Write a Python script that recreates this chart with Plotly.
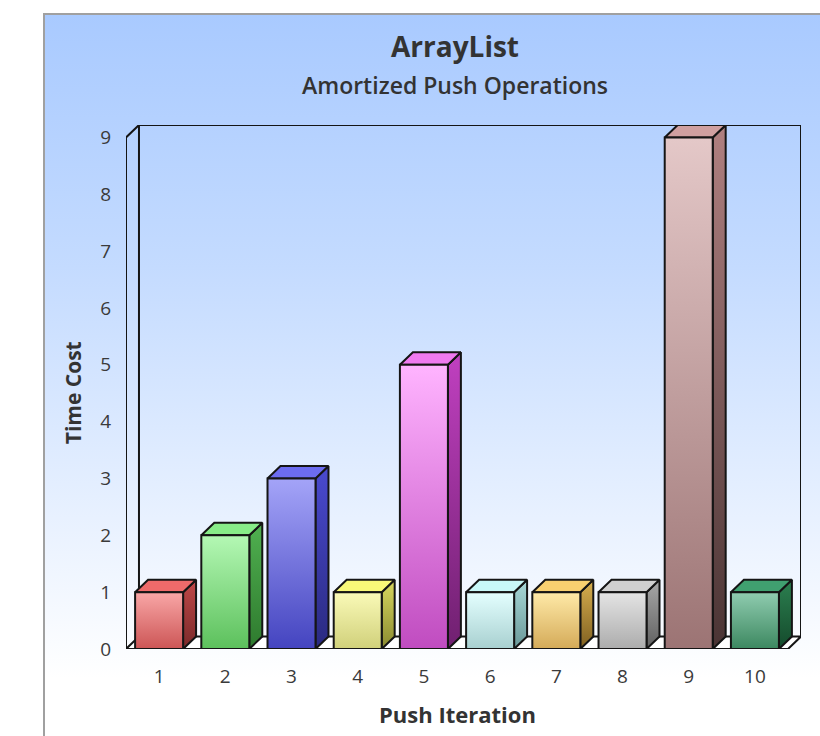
import base64
import plotly.graph_objects as go

# ---- data -------------------------------------------------------------
iterations = ["1", "2", "3", "4", "5", "6", "7", "8", "9", "10"]
time_cost = [1, 2, 3, 1, 5, 1, 1, 1, 9, 1]
y_ticks = [0, 1, 2, 3, 4, 5, 6, 7, 8, 9]

# per-bar palette: (front top, front bottom, side top, side bottom, top face)
front_top = ["#f9a7a7", "#b4f8b4", "#a4a4f8", "#fafab8", "#ffb4ff",
             "#e4ffff", "#ffeaa8", "#e4e4e4", "#e4c8c8", "#90ccb0"]
front_bottom = ["#cc5555", "#5cc05c", "#4444c0", "#d0d07a", "#c04cc0",
                "#a8d0d0", "#d4aa58", "#acacac", "#9c7474", "#3c8860"]
side_top = ["#c04848", "#50b050", "#4a4ad0", "#d8d860", "#c040c0",
            "#a8d8d8", "#d8b050", "#a8a8a8", "#b08080", "#2c8050"]
side_bottom = ["#7a2a2a", "#2e7a2e", "#2a2a80", "#8a8a30", "#702070",
               "#6a9898", "#806020", "#606060", "#4a3434", "#144a2c"]
top_face = ["#ee6a6a", "#88ec88", "#6c6cf0", "#f8f878", "#f07af0",
            "#c8f8f8", "#f8d070", "#d0d0d0", "#d0a0a0", "#40a070"]

# ---- geometry ---------------------------------------------------------
W, H = 820, 736
L, R, T, B = 126, 19, 125, 87          # plot margins (px)
half_w = 0.3625                         # half bar width (category units)
dx, dy = 0.196, 0.22                    # depth offset (data units)
x_lo, x_hi = -0.5, len(iterations) - 0.5
y_top = max(y_ticks)

pw, ph = W - L - R, H - T - B


def px_x(px):
    return (px - L) / pw


def px_y(py):
    return (H - B - py) / ph


outline = "#151515"
lw = 2
fig = go.Figure()

# floor
fig.add_trace(go.Scatter(
    x=[x_lo, x_hi, x_hi + dx, x_lo + dx, x_lo],
    y=[0, 0, dy, dy, 0],
    mode="lines", fill="toself", fillcolor="white",
    line=dict(color=outline, width=lw), hoverinfo="skip",
    showlegend=False, cliponaxis=False))

# left wall edges and back wall frame
wall_x = [x_lo, x_lo, x_lo + dx, x_hi + dx, x_hi + dx]
wall_y = [0, y_top, y_top + dy, y_top + dy, dy]
fig.add_trace(go.Scatter(
    x=wall_x, y=wall_y, mode="lines",
    line=dict(color=outline, width=lw), hoverinfo="skip",
    showlegend=False, cliponaxis=False))
fig.add_trace(go.Scatter(
    x=[x_lo + dx, x_lo + dx], y=[dy, y_top + dy], mode="lines",
    line=dict(color=outline, width=lw), hoverinfo="skip",
    showlegend=False, cliponaxis=False))

# 3D bars: side, top and front faces built from each value
for i, v in enumerate(time_cost):
    x0, x1 = i - half_w, i + half_w
    # side face
    fig.add_trace(go.Scatter(
        x=[x1, x1 + dx, x1 + dx, x1, x1],
        y=[0, dy, v + dy, v, 0],
        mode="lines", fill="toself",
        fillgradient=dict(type="vertical",
                          colorscale=[[0, side_bottom[i]], [1, side_top[i]]]),
        line=dict(color=outline, width=lw), hoverinfo="skip",
        showlegend=False, cliponaxis=False))
    # top face
    fig.add_trace(go.Scatter(
        x=[x0, x1, x1 + dx, x0 + dx, x0],
        y=[v, v, v + dy, v + dy, v],
        mode="lines", fill="toself", fillcolor=top_face[i],
        line=dict(color=outline, width=lw), hoverinfo="skip",
        showlegend=False, cliponaxis=False))
    # front face
    fig.add_trace(go.Scatter(
        x=[x0, x1, x1, x0, x0],
        y=[0, 0, v, v, 0],
        mode="lines", fill="toself",
        fillgradient=dict(type="vertical",
                          colorscale=[[0, front_bottom[i]], [1, front_top[i]]]),
        line=dict(color=outline, width=lw),
        name=iterations[i], hovertemplate="Push %{text}: %{customdata}<extra></extra>",
        text=[iterations[i]] * 5, customdata=[v] * 5,
        showlegend=False, cliponaxis=False))

# background panel with vertical gradient
svg = (
    '<svg xmlns="http://www.w3.org/2000/svg" width="100" height="100" '
    'preserveAspectRatio="none" viewBox="0 0 100 100">'
    '<defs><linearGradient id="g" x1="0" y1="0" x2="0" y2="1">'
    '<stop offset="0" stop-color="#a9caff"/>'
    '<stop offset="0.35" stop-color="#c4dbff"/>'
    '<stop offset="0.92" stop-color="#ffffff"/>'
    '<stop offset="1" stop-color="#ffffff"/>'
    '</linearGradient></defs>'
    '<rect width="100" height="100" fill="url(#g)"/></svg>'
)
src = "data:image/svg+xml;base64," + base64.b64encode(svg.encode()).decode()
fig.add_layout_image(dict(
    source=src, xref="paper", yref="paper",
    x=px_x(45), y=px_y(15), sizex=(W - 45) / pw, sizey=(H - 15) / ph,
    xanchor="left", yanchor="top", sizing="stretch", layer="below"))

# panel border (left and top)
fig.add_shape(type="line", xref="paper", yref="paper",
              x0=px_x(44), x1=px_x(44), y0=px_y(14), y1=px_y(H + 2),
              line=dict(color="#a0a0a0", width=2))
fig.add_shape(type="line", xref="paper", yref="paper",
              x0=px_x(43), x1=px_x(W + 2), y0=px_y(14), y1=px_y(14),
              line=dict(color="#a0a0a0", width=2))

font_family = "Open Sans, Noto Sans, DejaVu Sans, sans-serif"
text_color = "#333333"

# titles
fig.add_annotation(text="<b>ArrayList</b>", xref="paper", yref="paper",
                   x=px_x(455), y=px_y(46), showarrow=False,
                   xanchor="center", yanchor="middle",
                   font=dict(family=font_family, size=28, color=text_color))
fig.add_annotation(text="Amortized Push Operations", xref="paper", yref="paper",
                   x=px_x(455), y=px_y(85), showarrow=False,
                   xanchor="center", yanchor="middle",
                   font=dict(family=font_family, size=23, color=text_color,
                             weight=600))
fig.add_annotation(text="<b>Push Iteration</b>", xref="x", yref="paper",
                   x=(x_lo + x_hi) / 2, y=px_y(714), showarrow=False,
                   xanchor="center", yanchor="middle",
                   font=dict(family=font_family, size=22, color=text_color))
fig.add_annotation(text="<b>Time Cost</b>", xref="paper", yref="y",
                   x=px_x(73), y=y_top / 2, showarrow=False, textangle=-90,
                   xanchor="center", yanchor="middle",
                   font=dict(family=font_family, size=21, color=text_color))

fig.update_layout(
    width=W, height=H,
    margin=dict(l=L, r=R, t=T, b=B),
    paper_bgcolor="white", plot_bgcolor="rgba(0,0,0,0)",
    showlegend=False,
    font=dict(family=font_family, color=text_color),
    xaxis=dict(range=[x_lo, x_hi + dx], tickvals=list(range(len(iterations))),
               ticktext=iterations, showgrid=False, zeroline=False,
               showline=False, ticks="", ticklabelstandoff=14,
               tickfont=dict(size=19, color="#3a3a3a"), fixedrange=True),
    yaxis=dict(range=[0, y_top + dy], tickvals=y_ticks, showgrid=False,
               zeroline=False, showline=False, ticks="", ticklabelstandoff=14,
               tickfont=dict(size=19, color="#3a3a3a"), fixedrange=True),
)

fig.write_html("out.html")
